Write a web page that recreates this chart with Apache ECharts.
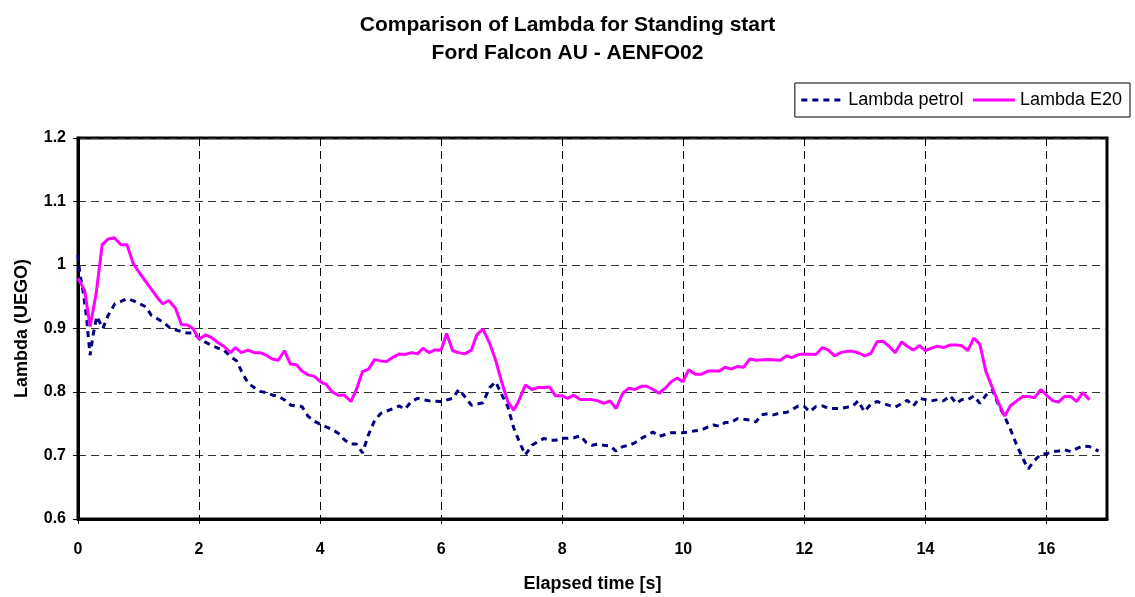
<!DOCTYPE html>
<html>
<head>
<meta charset="utf-8">
<script src="https://cdn.jsdelivr.net/npm/echarts@6/dist/echarts.min.js"></script>
<style>html,body{margin:0;padding:0;background:#fff}#c{width:1135px;height:597px}</style>
</head>
<body>
<div id="c"></div>
<script>
var titleLines = ['Comparison of Lambda for Standing start', 'Ford Falcon AU - AENFO02'];
var xName = 'Elapsed time [s]';
var yName = 'Lambda (UEGO)';
var seriesNames = ['Lambda petrol', 'Lambda E20'];

var petrolT = [0,0.03,0.08,0.14,0.17,0.20,0.25,0.31,0.41,0.50,
0.61,0.72,0.81,0.91,1.02,1.12,1.21,1.32,1.42,1.52,
1.61,1.71,1.80,1.90,2.0,2.11,2.20,2.31,2.41,2.52,
2.62,2.72,2.81,2.91,3.01,3.11,3.22,3.32,3.42,3.52,
3.61,3.70,3.80,3.90,4.01,4.10,4.20,4.30,4.41,4.51,
4.60,4.70,4.80,4.90,5.00,5.10,5.21,5.31,5.40,5.51,
5.61,5.70,5.81,6.0,6.19,6.29,6.39,6.50,6.69,6.80,
6.90,6.99,7.10,7.20,7.29,7.39,7.50,7.60,7.70,7.79,
7.89,8.0,8.09,8.19,8.30,8.40,8.49,8.59,8.69,8.79,
8.89,9.0,9.10,9.20,9.31,9.40,9.50,9.60,9.70,9.80,
9.90,9.99,10.09,10.20,10.30,10.41,10.50,10.60,10.69,10.79,
10.89,11.0,11.10,11.20,11.29,11.40,11.49,11.60,11.71,11.79,
11.90,12.0,12.09,12.19,12.30,12.40,12.50,12.60,12.70,12.80,
12.89,12.99,13.10,13.20,13.30,13.40,13.50,13.61,13.70,13.80,
13.90,14.0,14.10,14.20,14.30,14.41,14.51,14.60,14.70,14.80,
14.90,15.0,15.11,15.21,15.31,15.41,15.51,15.61,15.70,15.80,
15.91,16.01,16.11,16.20,16.30,16.40,16.50,16.60,16.71,16.86];
var petrolY = [1.016,0.987,0.961,0.919,0.887,0.858,0.890,0.919,0.900,0.921,
0.939,0.943,0.947,0.944,0.939,0.934,0.921,0.915,0.909,0.901,
0.898,0.895,0.893,0.893,0.885,0.878,0.874,0.869,0.866,0.856,
0.849,0.829,0.814,0.807,0.801,0.799,0.795,0.793,0.787,0.779,
0.778,0.777,0.762,0.754,0.749,0.745,0.741,0.735,0.724,0.718,
0.718,0.704,0.733,0.755,0.766,0.770,0.774,0.778,0.773,0.785,
0.790,0.788,0.786,0.785,0.790,0.804,0.793,0.779,0.783,0.807,
0.816,0.798,0.777,0.743,0.722,0.701,0.716,0.722,0.727,0.724,
0.724,0.727,0.727,0.728,0.731,0.720,0.716,0.718,0.716,0.715,
0.707,0.714,0.716,0.720,0.727,0.732,0.737,0.730,0.733,0.736,
0.736,0.736,0.737,0.739,0.740,0.745,0.748,0.746,0.752,0.752,
0.758,0.757,0.756,0.753,0.764,0.766,0.764,0.767,0.768,0.772,
0.778,0.777,0.769,0.777,0.778,0.774,0.774,0.774,0.776,0.778,
0.786,0.769,0.781,0.785,0.782,0.779,0.776,0.782,0.787,0.778,
0.790,0.788,0.786,0.788,0.786,0.794,0.782,0.788,0.788,0.794,
0.782,0.795,0.803,0.779,0.761,0.740,0.716,0.695,0.679,0.692,
0.702,0.703,0.706,0.707,0.709,0.706,0.711,0.715,0.714,0.707];

var e20T = [0,0.11,0.20,0.30,0.40,0.50,0.60,0.71,0.81,0.91,
1.02,1.18,1.35,1.40,1.50,1.61,1.71,1.80,1.90,2.0,
2.11,2.20,2.31,2.41,2.52,2.60,2.70,2.81,2.91,3.01,
3.11,3.21,3.31,3.41,3.51,3.61,3.70,3.80,3.90,4.01,
4.10,4.20,4.30,4.40,4.51,4.60,4.70,4.80,4.90,5.00,
5.10,5.21,5.31,5.40,5.51,5.61,5.70,5.80,5.89,6.0,
6.09,6.19,6.29,6.39,6.50,6.59,6.69,6.80,6.90,6.99,
7.10,7.20,7.29,7.39,7.50,7.60,7.70,7.79,7.89,8.0,
8.09,8.19,8.30,8.40,8.49,8.59,8.69,8.79,8.89,9.0,
9.10,9.20,9.31,9.40,9.50,9.60,9.70,9.80,9.90,9.99,
10.09,10.20,10.30,10.41,10.50,10.60,10.69,10.79,10.89,11.0,
11.10,11.20,11.40,11.60,11.71,11.79,11.90,12.0,12.19,12.30,
12.40,12.50,12.60,12.70,12.80,12.91,13.0,13.10,13.20,13.30,
13.40,13.50,13.61,13.70,13.80,13.90,14.0,14.10,14.20,14.30,
14.41,14.51,14.60,14.70,14.80,14.90,15.0,15.11,15.21,15.31,
15.41,15.51,15.61,15.71,15.80,15.91,16.01,16.11,16.20,16.30,
16.40,16.50,16.60,16.71];
var e20Y = [0.979,0.960,0.903,0.955,1.032,1.041,1.043,1.032,1.032,1.003,
0.987,0.966,0.944,0.939,0.944,0.932,0.906,0.906,0.900,0.883,
0.890,0.886,0.878,0.872,0.862,0.870,0.862,0.866,0.862,0.862,
0.858,0.852,0.850,0.865,0.844,0.843,0.833,0.827,0.825,0.816,
0.812,0.800,0.795,0.795,0.785,0.804,0.832,0.836,0.851,0.849,
0.848,0.855,0.860,0.859,0.862,0.860,0.869,0.862,0.866,0.866,
0.892,0.865,0.862,0.860,0.866,0.890,0.899,0.877,0.850,0.819,
0.785,0.771,0.788,0.811,0.804,0.807,0.807,0.808,0.794,0.794,
0.790,0.795,0.788,0.788,0.788,0.786,0.782,0.786,0.774,0.798,
0.806,0.804,0.809,0.809,0.804,0.798,0.806,0.816,0.822,0.816,
0.835,0.828,0.828,0.833,0.833,0.833,0.839,0.836,0.840,0.839,
0.852,0.850,0.851,0.850,0.857,0.854,0.859,0.860,0.859,0.870,
0.866,0.857,0.862,0.864,0.864,0.861,0.857,0.861,0.879,0.880,
0.872,0.862,0.879,0.872,0.866,0.873,0.865,0.869,0.872,0.870,
0.874,0.874,0.873,0.865,0.885,0.875,0.832,0.806,0.782,0.762,
0.779,0.786,0.793,0.793,0.791,0.804,0.794,0.786,0.784,0.793,
0.793,0.785,0.799,0.788];

function zip(t, y) { return t.map(function (v, i) { return [v, y[i]]; }); }

var FONT = '"Liberation Sans", Arial, sans-serif';
var chart = echarts.init(document.getElementById('c'), null, { renderer: 'canvas' });
chart.setOption({
  animation: false,
  backgroundColor: '#fff',
  title: {
    text: titleLines.join('\n'),
    left: 'center',
    top: 6,
    textStyle: { fontFamily: FONT, fontSize: 21, fontWeight: 'bold', color: '#000', lineHeight: 28 }
  },
  legend: {
    data: seriesNames,
    right: 5,
    top: 83,
    orient: 'horizontal',
    itemWidth: 42,
    itemHeight: 12,
    itemGap: 8,
    padding: [8, 8, 8, 5],
    borderColor: '#000',
    borderWidth: 1,
    borderRadius: 0,
    itemStyle: { opacity: 0 },
    lineStyle: { width: 3 },
    textStyle: { fontFamily: FONT, fontSize: 18, color: '#000' }
  },
  grid: {
    left: 78, right: 28, top: 138, bottom: 78,
    outerBoundsMode: 'none', containLabel: false,
    show: true, borderColor: '#000', borderWidth: 3, backgroundColor: '#fff'
  },
  xAxis: {
    type: 'value', min: 0, max: 17, interval: 2,
    name: xName, nameLocation: 'middle', nameGap: 56,
    nameTextStyle: { fontFamily: FONT, fontSize: 18, fontWeight: 'bold', color: '#000' },
    axisLine: { show: true, lineStyle: { color: '#000', width: 3 } },
    axisTick: { show: true, length: 5, lineStyle: { color: '#000', width: 1 } },
    axisLabel: { fontFamily: FONT, fontSize: 16, fontWeight: 'bold', color: '#000', margin: 23, showMaxLabel: false,
      formatter: function (v) { return v > 16 ? '' : String(v); } },
    splitLine: { show: true, lineStyle: { color: '#000', width: 1, type: [8, 5] } }
  },
  yAxis: {
    type: 'value', min: 0.6, max: 1.2, interval: 0.1,
    name: yName, nameLocation: 'middle', nameGap: 47,
    nameTextStyle: { fontFamily: FONT, fontSize: 18, fontWeight: 'bold', color: '#000' },
    axisLine: { show: true, lineStyle: { color: '#000', width: 3 } },
    axisTick: { show: true, length: 5, lineStyle: { color: '#000', width: 1 } },
    axisLabel: { fontFamily: FONT, fontSize: 16, fontWeight: 'bold', color: '#000', margin: 12,
      formatter: function (v) { return String(Math.round(v * 10) / 10); } },
    splitLine: { show: true, lineStyle: { color: '#333', width: 1, type: [8, 5] } }
  },
  series: [
    {
      name: seriesNames[0], type: 'line', symbol: 'none', data: zip(petrolT, petrolY),
      lineStyle: { color: '#000080', width: 3, type: [6, 5] },
      itemStyle: { color: '#000080' }
    },
    {
      name: seriesNames[1], type: 'line', symbol: 'none', data: zip(e20T, e20Y),
      lineStyle: { color: '#FF00FF', width: 3, type: 'solid' },
      itemStyle: { color: '#FF00FF' }
    }
  ]
});
</script>
</body>
</html>
